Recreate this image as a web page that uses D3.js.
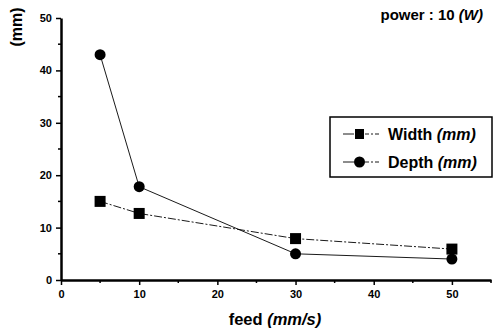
<!DOCTYPE html>
<html>
<head>
<meta charset="utf-8">
<script src="https://cdn.jsdelivr.net/npm/d3@7"></script>
<style>
  body { margin: 0; background: #fff; }
  text { font-family: 'Liberation Sans', Arial, sans-serif; font-weight: bold; fill: #000; }
</style>
</head>
<body>
<div id="app"></div>
<script>
const feed = [5, 10, 30, 50]
const width_mm = [15, 12.7, 7.9, 5.9]
const depth_mm = [43, 17.8, 5, 4]
const x_ticks = [0, 10, 20, 30, 40, 50]
const y_ticks = [0, 10, 20, 30, 40, 50]

const W = 501, H = 330

const x_scale = d3.scaleLinear().domain([0, 55]).range([61, 491])
const y_scale = d3.scaleLinear().domain([0, 50]).range([280, 18])

const svg = d3.create('svg')
    .attr('viewBox', [0, 0, W, H])
    .attr('width', W)
    .attr('height', H)

// axes
const xAxis = svg.append('g')
    .attr('transform', `translate(0, ${y_scale(0)})`)
    .call(d3.axisBottom(x_scale).tickValues(x_ticks).tickSize(5).tickPadding(5).tickSizeOuter(0))
xAxis.append('g').selectAll('line')
    .data([5, 15, 25, 35, 45, 55])
    .join('line')
    .attr('x1', d => x_scale(d)).attr('x2', d => x_scale(d))
    .attr('y1', 0).attr('y2', 3)
    .attr('stroke', '#000').attr('stroke-width', 1.5)

const yAxis = svg.append('g')
    .attr('transform', `translate(${x_scale(0)}, 0)`)
    .call(d3.axisLeft(y_scale).tickValues(y_ticks).tickSize(5).tickPadding(4).tickSizeOuter(0))
yAxis.append('g').selectAll('line')
    .data([5, 15, 25, 35, 45])
    .join('line')
    .attr('y1', d => y_scale(d)).attr('y2', d => y_scale(d))
    .attr('x1', 0).attr('x2', -3)
    .attr('stroke', '#000').attr('stroke-width', 1.5)

svg.selectAll('.domain').attr('stroke-width', 2.5)
svg.selectAll('.tick line').attr('stroke-width', 1.5)
svg.selectAll('.tick text').style('font-size', '11px').style('font-weight', 'bold')

// lines
const line = d3.line().x(d => x_scale(d[0])).y(d => y_scale(d[1]))
const width_pts = feed.map((f, i) => [f, width_mm[i]])
const depth_pts = feed.map((f, i) => [f, depth_mm[i]])

svg.append('path')
    .datum(width_pts)
    .attr('d', line)
    .attr('fill', 'none')
    .attr('stroke', '#000')
    .attr('stroke-width', 0.9)
    .attr('stroke-dasharray', '8,2,2,2')

svg.append('path')
    .datum(depth_pts)
    .attr('d', line)
    .attr('fill', 'none')
    .attr('stroke', '#000')
    .attr('stroke-width', 0.9)

svg.append('g').selectAll('rect')
    .data(width_pts)
    .join('rect')
    .attr('x', d => x_scale(d[0]) - 5.5)
    .attr('y', d => y_scale(d[1]) - 5.5)
    .attr('width', 11).attr('height', 11)
    .attr('fill', '#000')

svg.append('g').selectAll('circle')
    .data(depth_pts)
    .join('circle')
    .attr('cx', d => x_scale(d[0]))
    .attr('cy', d => y_scale(d[1]))
    .attr('r', 5.5)
    .attr('fill', '#000')

// legend
const legend = svg.append('g').attr('transform', 'translate(330, 117)')
legend.append('rect')
    .attr('width', 162).attr('height', 60)
    .attr('fill', '#fff').attr('stroke', '#000').attr('stroke-width', 1.5)

const entries = [
    {name: 'Width', marker: 'square', y: 17},
    {name: 'Depth', marker: 'circle', y: 45}
]
entries.forEach(e => {
    const g = legend.append('g').attr('transform', `translate(0, ${e.y})`)
    g.append('line').attr('x1', 13).attr('x2', 24).attr('stroke', '#000').attr('stroke-width', 0.9)
    g.append('line').attr('x1', 35).attr('x2', 49).attr('stroke', '#000').attr('stroke-width', 0.9)
        .attr('stroke-dasharray', '4,2,2,2')
    if (e.marker === 'square') {
        g.append('rect').attr('x', 25).attr('y', -5).attr('width', 9).attr('height', 10).attr('fill', '#000')
    } else {
        g.append('circle').attr('cx', 29.5).attr('r', 5.5).attr('fill', '#000')
    }
    const t = g.append('text').attr('x', 58).attr('dy', '0.36em').style('font-size', '16px')
    t.append('tspan').text(e.name + ' ')
    t.append('tspan').style('font-style', 'italic').text('(mm)')
})

// title
const title = svg.append('text').attr('x', 483).attr('y', 20).attr('text-anchor', 'end').style('font-size', '15px')
title.append('tspan').text('power : 10 ')
title.append('tspan').style('font-style', 'italic').text('(W)')

// axis labels
const xl = svg.append('text').attr('x', 275).attr('y', 325).attr('text-anchor', 'middle').style('font-size', '16.5px')
xl.append('tspan').text('feed ')
xl.append('tspan').style('font-style', 'italic').text('(mm/s)')

svg.append('text')
    .attr('transform', 'translate(22, 27) rotate(-90)')
    .attr('text-anchor', 'middle')
    .style('font-size', '16px')
    .text('(mm)')

d3.select('#app').append(() => svg.node())
</script>
</body>
</html>
